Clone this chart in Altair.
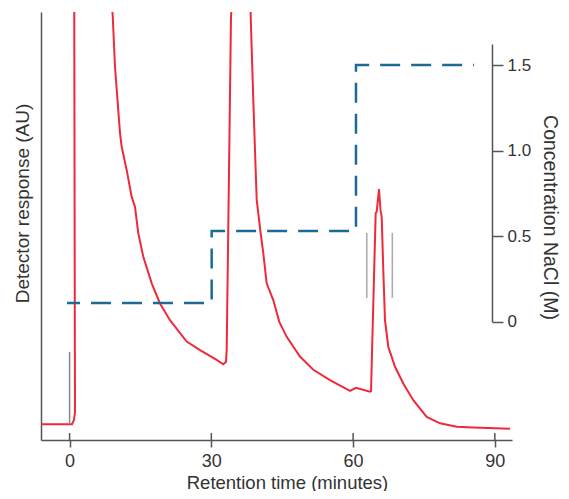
import altair as alt
import pandas as pd

# ---- data ----
# detector trace (minutes, arbitrary detector units 0-100 = full plot height)
trace_time = [-6.0, 0.51, 0.93, 1.14, 0.99, 4.5, 9.12, 9.61, 10.67, 11.02, 12.08, 13.14,
              13.84, 14.54, 15.60, 17.38, 19.13, 21.25, 24.78, 27.60, 31.13, 32.53,
              33.10, 33.25, 34.16, 37.5, 38.33, 38.88, 39.60, 40.44, 41.0, 41.71,
              43.11, 44.38, 45.95, 48.76, 51.58, 55.11, 59.34, 60.61, 63.58, 63.79,
              64.78, 64.99, 65.48, 65.80, 66.05, 66.39, 66.75, 67.45, 68.87, 70.62,
              72.74, 75.58, 78.39, 81.93, 85.44, 93.21]
trace_resp = [3.7, 3.7, 4.7, 6.5, 99.8, 150.0, 99.3, 87.2, 71.7, 68.5, 63.1, 56.8,
              54.5, 48.3, 42.8, 36.6, 31.9, 28.0, 23.0, 21.0, 18.7, 17.7,
              18.3, 21.0, 98.9, 150.0, 98.9, 79.4, 56.1, 48.3, 43.6, 36.6,
              32.7, 27.6, 24.1, 19.5, 16.4, 14.0, 11.5, 12.2, 11.3, 11.4,
              53.0, 53.3, 58.6, 53.7, 52.2, 39.7, 28.0, 21.8, 17.1, 13.2,
              9.3, 5.4, 3.9, 3.1, 2.9, 2.6]

# NaCl step gradient
salt_time = [-0.55, 30.07, 30.07, 60.61, 60.61, 85.6]
salt_conc = [0.11, 0.11, 0.53, 0.53, 1.50, 1.50]

# injection marker and fraction markers
inject_time = [0.0]
inject_low = [3.7]
inject_high = [20.6]
frac_time = [62.9, 68.3]
frac_low = [33.2, 33.2]
frac_high = [48.4, 48.4]

x_ticks = [0, 30, 60, 90]
conc_ticks = [0, 0.5, 1.0, 1.5]

# ---- styling ----
RED = "#ee2a3a"
BLUE = "#1d6a96"
AX = "#555555"
TXT = "#333333"
FONT = "Liberation Sans, Arial, sans-serif"
W, H = 471, 428

trace = pd.DataFrame({"t": trace_time, "v": trace_resp, "i": list(range(len(trace_time)))})
salt = pd.DataFrame({"t": salt_time, "c": salt_conc, "i": list(range(len(salt_time)))})
inject = pd.DataFrame({"t": inject_time, "lo": inject_low, "hi": inject_high})
frac = pd.DataFrame({"t": frac_time, "lo": frac_low, "hi": frac_high})
ticks = pd.DataFrame({"t": x_ticks})

xs = alt.Scale(domain=[-6.05, 93.63], nice=False, zero=False)
ys = alt.Scale(domain=[0, 100], nice=False, zero=False)

x_axis = alt.Axis(values=x_ticks, title="Retention time (minutes)", grid=False,
                  tickSize=7, labelPadding=5, labelFontSize=18, titleFontSize=18.5,
                  titleX=246, titleY=48, titleBaseline="alphabetic")
y_axis = alt.Axis(title="Detector response (AU)", ticks=False, labels=False, grid=False,
                  titleFontSize=19, titleAngle=270, titleX=-19, titleY=191,
                  titleBaseline="middle", titleAlign="center")

red = alt.Chart(trace).mark_line(color=RED, strokeWidth=2, clip=True).encode(
    x=alt.X("t:Q", scale=xs, axis=x_axis),
    y=alt.Y("v:Q", scale=ys, axis=y_axis),
    order=alt.Order("i:Q"),
)

inj = alt.Chart(inject).mark_rule(color="#888888", strokeWidth=1.5).encode(
    x=alt.X("t:Q", scale=xs, axis=x_axis),
    y=alt.Y("lo:Q", scale=ys, axis=y_axis),
    y2="hi:Q",
)

fr = alt.Chart(frac).mark_rule(color="#aaaaaa", strokeWidth=1.5).encode(
    x=alt.X("t:Q", scale=xs, axis=x_axis),
    y=alt.Y("lo:Q", scale=ys, axis=y_axis),
    y2="hi:Q",
)

inner_ticks = alt.Chart(ticks).mark_rule(color=AX, strokeWidth=1.5).encode(
    x=alt.X("t:Q", scale=xs, axis=x_axis),
    y=alt.value(H - 7),
    y2=alt.value(H),
)

left = alt.layer(red, inj, fr, inner_ticks)

blue = alt.Chart(salt).mark_line(color=BLUE, strokeWidth=2.5, strokeDash=[20, 11],
                                 strokeDashOffset=7).encode(
    x=alt.X("t:Q", scale=xs, axis=x_axis),
    y=alt.Y("c:Q",
            scale=alt.Scale(domain=[0, 1.623], range=[309.7, 32], nice=False, zero=False),
            axis=alt.Axis(orient="right", offset=-20, values=conc_ticks,
                          labelExpr="datum.value == 0 ? '0' : format(datum.value, '.1f')",
                          tickSize=11, labelPadding=4, labelFontSize=17, grid=False,
                          title="Concentration NaCl (M)", titleFontSize=19.5, titleAngle=90,
                          titleX=57, titleY=205, titleBaseline="middle", titleAlign="center")),
    order=alt.Order("i:Q"),
)

chart = alt.layer(left, blue).resolve_scale(y="independent").properties(
    width=W, height=H,
    padding={"left": 33, "top": 4, "right": 49, "bottom": 51},
    autosize=alt.AutoSizeParams(type="none"),
    background="white",
).configure_view(stroke=None).configure_axis(
    domainColor=AX, domainWidth=1.5, tickColor=AX, tickWidth=1.5,
    labelColor=TXT, titleColor=TXT, labelFont=FONT, titleFont=FONT,
    titleFontWeight="normal",
)

chart.save("out.html", embed_options={"renderer": "svg", "actions": False})
